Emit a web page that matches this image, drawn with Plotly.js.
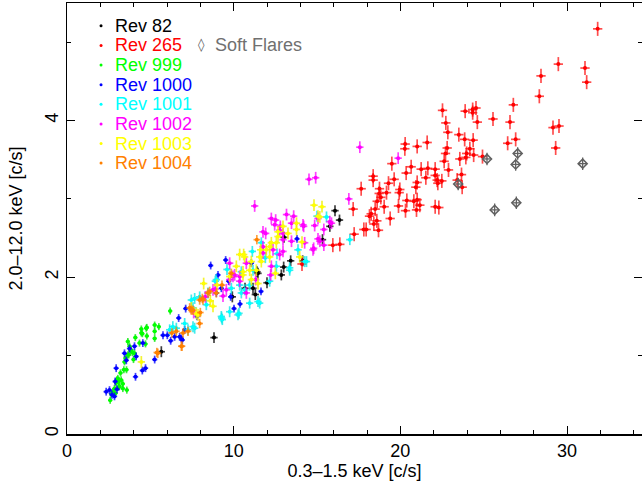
<!DOCTYPE html>
<html><head><meta charset="utf-8">
<script src="https://cdn.plot.ly/plotly-3.0.1.min.js"></script>
<style>html,body{margin:0;padding:0;background:#fff}</style>
</head><body><div id="chart" style="width:642px;height:484px"></div>
<script>
// ---- data (0.3-1.5 keV rate, 2.0-12.0 keV rate) ----
const rev82X = [16.08,16.35,15.77,15.33,13.42,12.86,14.14,13.02,12.00,11.46,10.68,11.30,9.92,8.82,5.66,13.00,11.40,11.16];
const rev82Y = [2.85,2.73,2.65,2.48,2.21,2.03,2.21,2.51,1.93,2.05,1.86,1.78,1.75,1.23,1.05,2.13,2.07,1.86];

const rev265X = [31.84,29.48,31.08,31.18,28.44,28.34,26.78,26.58,25.56,24.54,24.34,24.34,23.89,24.62,22.53,22.73,22.85,23.51,23.86,24.37,
  24.17,23.98,24.40,23.57,23.93,24.93,26.92,26.44,29.16,29.52,29.32,22.81,22.71,22.63,22.89,23.67,23.41,23.71,21.61,21.01,
  20.29,20.27,19.49,20.65,20.35,21.25,21.65,22.09,22.09,21.53,21.01,20.93,22.21,22.49,22.25,19.63,18.37,18.37,19.29,17.65,
  18.75,18.73,18.83,19.17,19.97,19.93,20.39,20.81,21.01,19.89,20.31,20.97,21.17,18.61,19.03,18.49,18.15,18.59,18.41,18.69,
  19.39,17.95,17.81,17.17,17.23,22.09,22.31,15.95,16.37,18.25,14.10];
const rev265Y = [5.17,4.72,4.67,4.49,4.57,4.31,4.20,3.98,4.02,4.16,4.14,4.10,4.12,3.98,4.13,3.97,3.85,3.82,3.76,3.75,
  3.64,3.58,3.56,3.51,3.53,3.54,3.76,3.71,3.91,3.93,3.65,3.65,3.58,3.48,3.37,3.31,3.24,3.15,3.72,3.67,
  3.70,3.64,3.45,3.41,3.33,3.38,3.39,3.38,3.30,3.27,3.21,3.15,3.24,3.23,3.20,3.25,3.29,3.24,3.20,3.13,
  3.13,3.07,3.02,3.08,3.12,3.08,2.98,2.97,2.99,2.91,2.85,2.86,2.92,2.97,2.90,2.87,2.78,2.72,2.68,2.60,
  2.75,2.61,2.61,2.87,2.55,2.90,2.89,2.41,2.42,2.81,2.17];

const softX = [25.20,27.04,26.92,30.94,25.66,26.96,23.47];
const softY = [3.51,3.58,3.44,3.45,2.86,2.95,3.19];

const rev999X = [2.59,2.75,2.65,2.85,2.95,3.09,3.25,3.15,3.35,3.59,3.05,3.21,3.41,3.57,3.51,3.45,3.65,3.71,3.85,3.81,
  3.75,4.05,3.92,3.65,4.10,4.35,4.46,4.46,4.79,4.52,4.75,4.79,4.71,5.26,5.51,5.26,5.26,6.19,3.99,2.91,3.11,2.99,3.35];
const rev999Y = [0.43,0.54,0.51,0.58,0.65,0.67,0.69,0.61,0.58,0.56,0.71,0.78,0.82,0.82,0.97,0.92,1.01,1.01,1.07,1.07,
  1.12,1.03,1.04,1.18,1.23,1.16,1.29,1.34,1.36,1.28,1.35,1.25,1.15,1.39,1.37,1.31,1.22,1.57,0.95,0.52,0.60,0.69,0.64];

const rev1000X = [2.35,2.85,2.89,2.95,3.56,4.11,4.52,4.71,5.26,4.05,4.55,4.15,5.76,6.02,6.22,6.70,6.76,6.92,7.06,3.45,
  3.75,8.62,9.52,9.06,10.02,10.38,7.12,6.46,8.96,9.26,11.64,9.82,6.86,13.80,2.55,2.70,3.00,7.80,9.70,11.06];
const rev1000Y = [0.54,0.48,0.67,0.84,0.94,0.73,0.81,0.84,0.95,1.12,1.16,0.99,1.26,1.26,1.19,1.48,1.24,1.20,1.33,1.03,
  1.09,2.15,2.22,2.03,1.60,1.66,1.60,1.24,1.80,1.86,1.82,1.75,1.22,2.49,0.56,0.50,0.57,1.50,1.95,2.18];

const rev1001X = [6.35,7.06,7.66,7.46,7.96,7.56,6.56,6.16,7.26,8.36,8.46,9.32,10.26,9.76,10.96,11.46,7.56,11.16,10.66,10.36,
  9.86,10.32,9.28,11.56,10.46,12.16,13.36,14.26,13.86,15.00,15.57,16.97,14.37,13.36,8.90,9.60,12.60,11.90,11.12,10.46,
  8.96,7.66,10.96,12.56,11.66,9.26];
const rev1001Y = [1.37,1.41,1.35,1.71,1.75,1.61,1.35,1.33,1.33,1.65,1.80,1.46,1.52,1.56,1.67,1.69,1.37,2.09,1.84,1.90,
  1.86,1.54,1.48,1.67,1.80,1.95,2.12,2.20,2.35,2.78,2.77,2.48,2.20,2.09,1.95,2.10,2.30,2.25,2.33,2.07,
  1.97,1.73,1.90,2.14,2.44,1.50];

const rev1002X = [17.57,19.87,14.52,14.92,16.91,15.06,14.86,15.41,15.87,15.06,15.41,14.80,14.20,11.26,12.26,13.17,13.60,11.92,12.80,13.47,
  14.16,12.96,13.47,14.76,11.76,12.26,10.36,12.52,11.76,12.76,10.76,9.76,10.06,10.76,11.76,11.32,12.22,9.56,9.96,8.90,
  8.30,7.60,15.77,9.76,12.46,8.76,9.36,12.96,12.96,14.26,15.17,12.36,12.76,10.36];
const rev1002Y = [3.66,3.52,3.25,3.27,3.00,2.75,2.66,2.61,2.69,2.49,2.41,2.37,2.65,2.91,2.75,2.80,2.78,2.56,2.65,2.69,
  2.67,2.48,2.46,2.35,2.39,2.14,2.01,2.73,2.58,2.60,1.80,1.97,2.03,2.18,2.31,1.97,2.03,1.84,2.01,1.85,
  1.75,1.55,2.71,2.18,2.67,1.84,1.76,2.33,2.56,2.44,2.46,2.35,2.29,1.95];

const rev1003X = [14.82,15.30,12.96,13.26,12.66,13.77,12.56,11.96,11.56,10.66,11.06,10.16,10.56,11.36,9.76,11.06,12.16,13.96,15.06,15.17,
  8.20,4.46,10.36,7.76,7.46,7.86,10.56,10.96,11.62,13.77,12.50,12.66,9.00,8.60,14.10,10.60,11.66,11.46,12.16,8.76,12.26];
const rev1003Y = [2.92,2.90,2.65,2.56,2.58,2.69,2.44,2.35,2.26,2.26,2.20,2.14,2.07,2.09,2.01,1.97,2.26,2.26,2.78,2.77,
  1.92,0.92,2.29,1.54,1.61,1.52,2.03,2.09,2.35,2.61,2.05,2.52,1.90,1.70,2.45,2.29,2.20,1.92,2.39,1.63,2.44];

const rev1004X = [5.39,6.90,6.29,6.56,7.46,7.96,6.96,7.26,8.12,8.96,11.39,7.56,8.56,8.46,7.96,7.36,6.86,5.45,9.30,8.00,9.86,8.16];
const rev1004Y = [1.04,1.12,1.29,1.31,1.58,1.41,1.29,1.31,1.73,1.80,2.48,1.58,1.82,1.80,1.71,1.61,1.12,1.03,1.90,1.55,2.05,1.71];

const seriesNames = ['Rev 82','Rev 265','Rev 999','Rev 1000','Rev 1001','Rev 1002','Rev 1003','Rev 1004'];
const seriesX = [rev82X,rev265X,rev999X,rev1000X,rev1001X,rev1002X,rev1003X,rev1004X];
const seriesY = [rev82Y,rev265Y,rev999Y,rev1000Y,rev1001Y,rev1002Y,rev1003Y,rev1004Y];
const errX = [0.22,0.28,0.13,0.16,0.22,0.22,0.22,0.2];
const errY = [0.07,0.09,0.045,0.05,0.07,0.075,0.075,0.06];
const softLabel = 'Soft Flares';
const xTitle = '0.3\u20131.5 keV [c/s]';
const yTitle = '2.0\u201312.0 keV [c/s]';

// ---- styling ----
const colors = ['#000000','#ff0000','#00ff00','#0000ff','#00ffff','#ff00ff','#ffff00','#ff8000'];
const barColors = ['rgba(0,0,0,0.75)','rgba(255,0,0,0.7)','rgba(0,230,0,0.75)','rgba(0,0,255,0.75)',
  'rgba(0,230,230,0.75)','rgba(255,0,255,0.75)','rgba(240,240,0,0.8)','rgba(255,128,0,0.75)'];
const softColor = '#606060';
const FONT = 'Liberation Sans, Arial, sans-serif';
const FS = 18;

function mk(i){
  return {
    type:'scatter', mode:'markers', x:seriesX[i], y:seriesY[i], name:seriesNames[i], showlegend:false,
    marker:{color:colors[i], size:4, line:{width:0}},
    error_x:{type:'constant', value:errX[i], color:barColors[i], thickness:1.7, width:0},
    error_y:{type:'constant', value:errY[i], color:barColors[i], thickness:1.7, width:0},
    hoverinfo:'skip'
  };
}
const traces = [mk(0), mk(1),
  {type:'scatter', mode:'markers', x:softX, y:softY, name:softLabel, showlegend:false,
   marker:{symbol:'diamond-open', color:softColor, size:7, line:{width:1.5, color:softColor}},
   error_x:{type:'constant', value:0.25, color:softColor, thickness:1.3, width:0},
   error_y:{type:'constant', value:0.08, color:softColor, thickness:1.3, width:0}},
  mk(2), mk(3), mk(4), mk(5), mk(6), mk(7)];

// legend built from annotations / shapes in paper coordinates
const annotations = [];
const shapes = [];
const legX = 0.0592, legTextX = 0.0801, legY0 = 0.947, legDy = 0.0455;
seriesNames.forEach((n,i)=>{
  const yy = legY0 - i*legDy;
  shapes.push({type:'circle', xref:'paper', yref:'paper', xsizemode:'pixel', ysizemode:'pixel',
    xanchor:legX, yanchor:yy, x0:-1.5, x1:1.5, y0:-1.5, y1:1.5, fillcolor:colors[i], line:{width:0}});
  annotations.push({xref:'paper', yref:'paper', x:legTextX, y:yy, text:n, showarrow:false,
    xanchor:'left', yanchor:'middle', font:{family:FONT, size:FS, color:colors[i]}});
});
annotations.push({xref:'paper', yref:'paper', x:0.2334, y:legY0-legDy, text:'\u25CA', showarrow:false,
  xanchor:'center', yanchor:'middle', font:{family:'DejaVu Sans', size:13, color:softColor}});
annotations.push({xref:'paper', yref:'paper', x:0.2544, y:legY0-legDy, text:softLabel, showarrow:false,
  xanchor:'left', yanchor:'middle', font:{family:FONT, size:FS, color:'#707070'}});

const axisCommon = {showgrid:false, zeroline:false, showline:true, linecolor:'#000', linewidth:1.5,
  mirror:'ticks', ticks:'inside', tickcolor:'#000', tickwidth:1, ticklen:8,
  tickfont:{family:FONT, size:FS, color:'#000'}};

const layout = {
  width:642, height:484, margin:{l:67, r:0, t:3, b:50},
  paper_bgcolor:'#fff', plot_bgcolor:'#fff', showlegend:false,
  font:{family:FONT, size:FS, color:'#000'},
  xaxis:Object.assign({}, axisCommon, {range:[0,34.5], tickmode:'linear', tick0:0, dtick:10,
    minor:{dtick:2, ticks:'inside', ticklen:4, tickcolor:'#000', tickwidth:1},
    title:{text:xTitle, font:{family:FONT, size:FS, color:'#000'}, standoff:2}}),
  yaxis:Object.assign({}, axisCommon, {range:[0,5.5], tickmode:'linear', tick0:0, dtick:2, tickangle:-90,
    minor:{dtick:1, ticks:'inside', ticklen:4, tickcolor:'#000', tickwidth:1},
    title:{text:yTitle, font:{family:FONT, size:FS, color:'#000'}, standoff:15}}),
  annotations:annotations, shapes:shapes
};
Plotly.newPlot('chart', traces, layout, {displayModeBar:false, staticPlot:true});
</script></body></html>
